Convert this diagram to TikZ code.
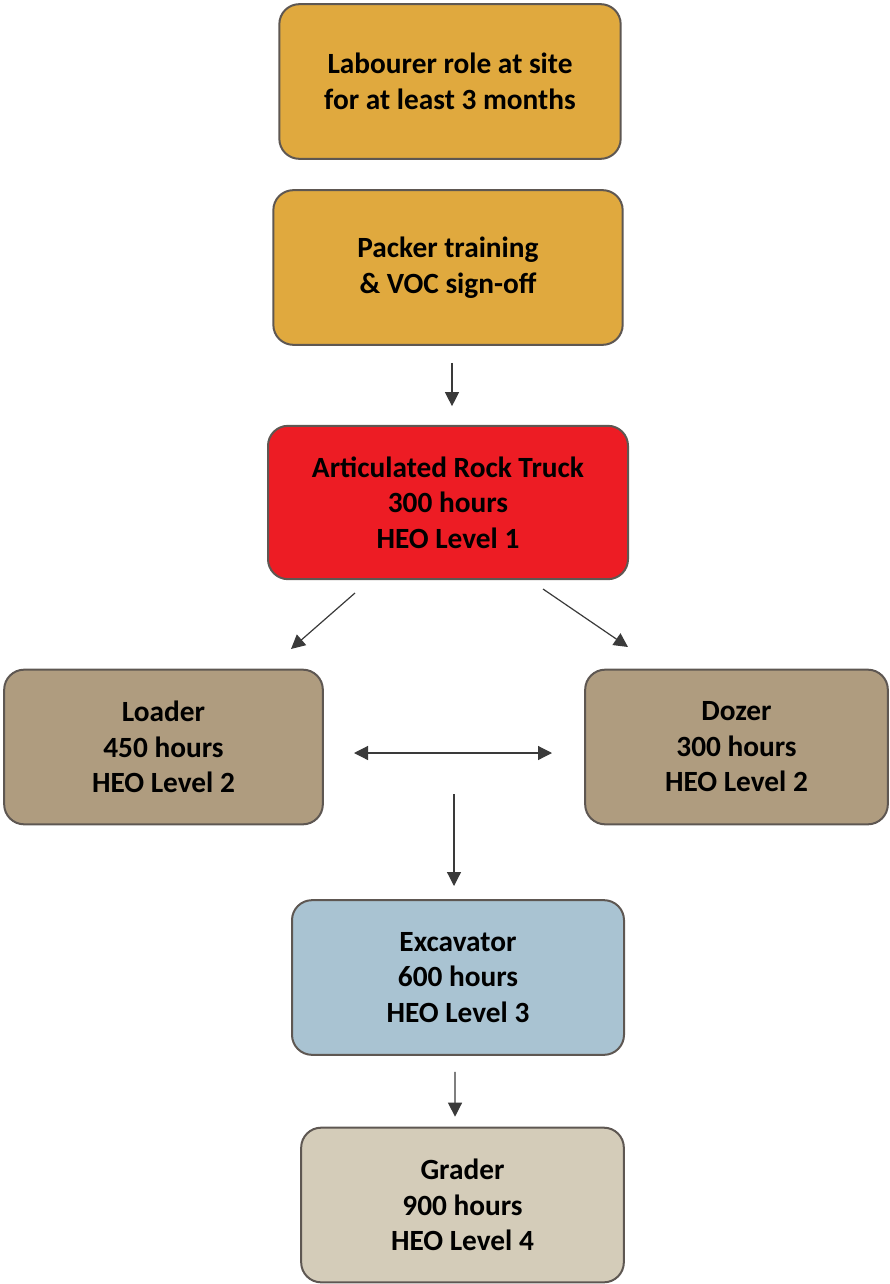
\documentclass[tikz,border=0pt]{standalone}
\usepackage{fontspec}
\setmainfont{Carlito}
\usetikzlibrary{arrows.meta,positioning,calc}

\definecolor{entryorange}{HTML}{E0A93E}
\definecolor{levelred}{HTML}{ED1C24}
\definecolor{leveltan}{HTML}{AF9C7F}
\definecolor{levelblue}{HTML}{A9C3D2}
\definecolor{levelbeige}{HTML}{D4CCB9}
\definecolor{boxedge}{HTML}{5E5752}
\definecolor{arrowgray}{HTML}{3A3A3A}

\tikzset{
  stage/.style={draw=boxedge, line width=1.5pt, rounded corners=15pt,
    align=center, inner sep=0pt, minimum height=116pt,
    font=\bfseries\fontsize{22}{26.6}\selectfont},
  link/.style={draw=arrowgray, line width=0.9pt,
    -{Triangle[length=10.5pt,width=10.5pt]}},
  twolink/.style={link, {Triangle[length=10.5pt,width=10.5pt]}-{Triangle[length=10.5pt,width=10.5pt]}}
}

\begin{document}
\begin{tikzpicture}[x=0.75pt,y=-0.75pt]
    \useasboundingbox (0,0) rectangle (889,1284);

    % Entry steps
    \node[stage, fill=entryorange, minimum width=256pt] (labourer) at (450,81.5)
      {Labourer role at site\\for at least 3 months};
    \node[stage, fill=entryorange, minimum width=262pt] (packer) at (448,267.5)
      {Packer training\\\& VOC sign-off};

    % HEO levels
    \node[stage, fill=levelred, minimum width=270pt, minimum height=115pt] (truck) at (448,502.5)
      {Articulated Rock Truck\\300 hours\\HEO Level 1};
    \node[stage, fill=leveltan, minimum width=239pt] (loader) at (163.5,747)
      {Loader\\450 hours\\HEO Level 2};
    \node[stage, fill=leveltan, minimum width=227pt] (dozer) at (736.5,747)
      {Dozer\\300 hours\\HEO Level 2};
    \node[stage, fill=levelblue, minimum width=249pt] (excavator) at (458,977.5)
      {Excavator\\600 hours\\HEO Level 3};
    \node[stage, fill=levelbeige, minimum width=242pt] (grader) at (462.5,1205)
      {Grader\\900 hours\\HEO Level 4};

    % Arrow ends
    \coordinate (truckL) at (355,593);
    \coordinate (loaderT) at (291,649);
    \coordinate (truckR) at (543,589);
    \coordinate (dozerT) at (628,647);
    \coordinate (loaderR) at (354,753);
    \coordinate (dozerL) at (552,753);
    \coordinate (midT) at (454,794);
    \coordinate (excavatorT) at (454,886);

    % Arrows
    \draw[link, shorten <=12.75pt, shorten >=14pt] ([xshift=3pt]packer.south) -- ([xshift=3pt]truck.north);
    \draw[link] (truckL) -- (loaderT);
    \draw[link] (truckR) -- (dozerT);
    \draw[twolink] (loaderR) -- (dozerL);
    \draw[link] (midT) -- (excavatorT);
    \draw[link, shorten <=12pt, shorten >=7.5pt] ([xshift=-2.25pt]excavator.south) -- ([xshift=-5.6pt]grader.north);
\end{tikzpicture}
\end{document}
